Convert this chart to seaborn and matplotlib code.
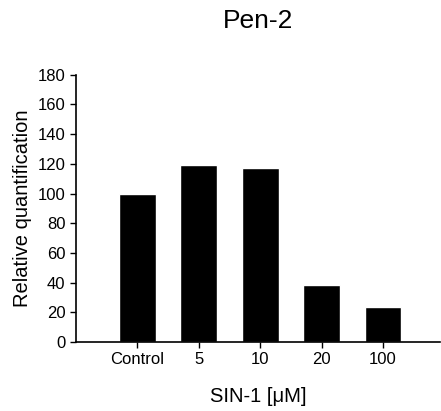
import matplotlib
matplotlib.use("Agg")
import matplotlib.pyplot as plt
import seaborn as sns
import pandas as pd

conditions = ['Control', '5', '10', '20', '100']
quantification = [100, 119, 117.5, 38.5, 23.5]

df = pd.DataFrame({'SIN-1': conditions, 'Relative quantification': quantification})

sns.set_style('ticks')
plt.rcParams['font.family'] = ['Liberation Sans', 'DejaVu Sans']
plt.rcParams['text.color'] = 'black'
plt.rcParams['axes.labelcolor'] = 'black'

fig = plt.figure(figsize=(4.41, 4.11), dpi=100)
ax = fig.add_axes([0.172, 0.168, 0.826, 0.650])
sns.barplot(data=df, x='SIN-1', y='Relative quantification', color='black',
            width=0.6, saturation=1, ax=ax)

ax.set_xlim(-1, 4.93)
ax.set_ylim(0, 180)
ax.set_yticks(range(0, 181, 20))
ax.tick_params(axis='both', labelsize=12, length=4, width=1, colors='black')
for s in ['left', 'bottom']:
    ax.spines[s].set_linewidth(1.2)
    ax.spines[s].set_color('black')
sns.despine(ax=ax)

ax.set_xlabel('SIN-1 [\u03bcM]', fontsize=14.5, labelpad=14)
ax.set_ylabel('Relative quantification', fontsize=14.5, labelpad=4)
ax.set_title('Pen-2', fontsize=19, pad=34, color='black')

fig.savefig('out.png', dpi=100)
